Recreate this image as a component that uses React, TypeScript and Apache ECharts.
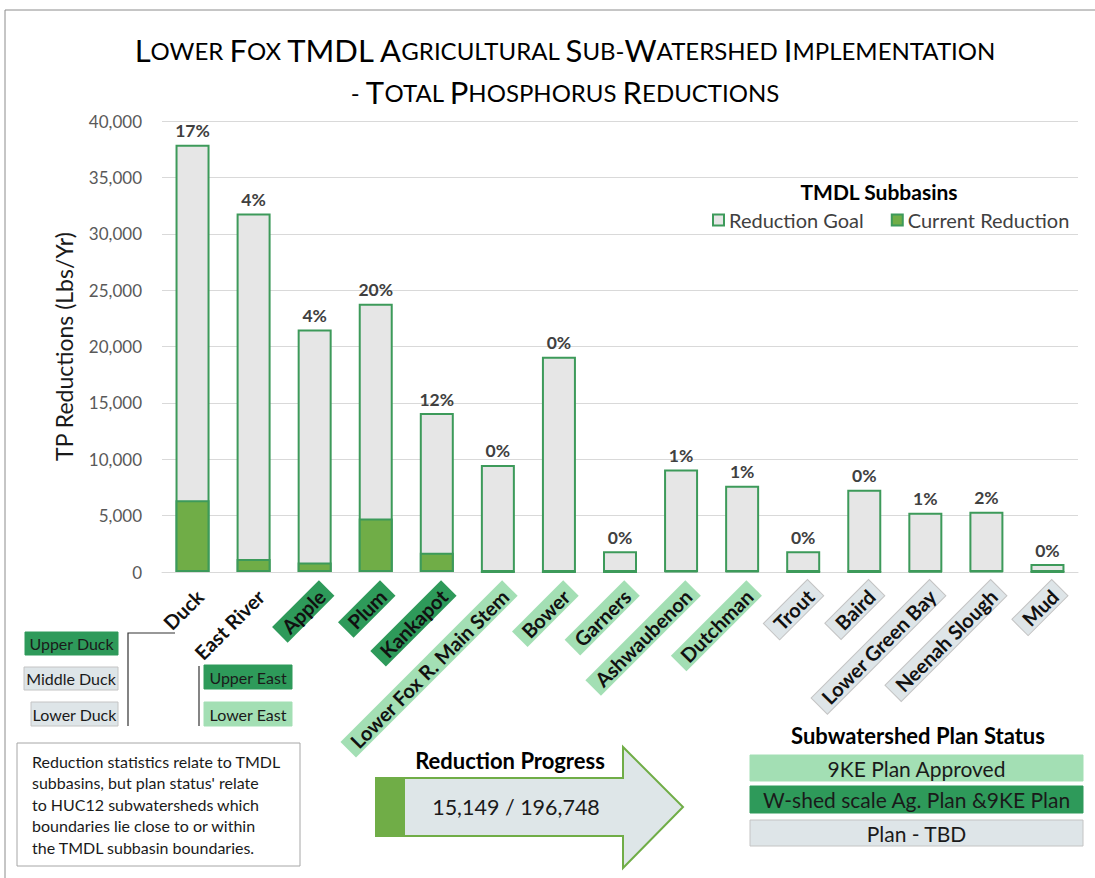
import React, { useEffect, useRef } from "react";
import * as echarts from "echarts";

const categories = [
  "Duck", "East River", "Apple", "Plum", "Kankapot", "Lower Fox R. Main Stem", "Bower",
  "Garners", "Ashwaubenon", "Dutchman", "Trout", "Baird", "Lower Green Bay", "Neenah Slough", "Mud",
];
const reductionGoal = [37900, 31800, 21500, 23800, 14100, 9500, 19100, 1850, 9100, 7650, 1850, 7300, 5250, 5350, 700];
const currentReduction = [6370, 1150, 850, 4750, 1700, 0, 0, 0, 91, 77, 0, 0, 53, 107, 0];
const pctLabels = ["17%", "4%", "4%", "20%", "12%", "0%", "0%", "0%", "1%", "1%", "0%", "0%", "1%", "2%", "0%"];
const planStatus = ["none", "none", "wshed", "wshed", "wshed", "nke", "nke", "nke", "nke", "nke", "tbd", "tbd", "tbd", "tbd", "tbd"];
const yMin = 0;
const yMax = 40000;
const yInterval = 5000;
const titleLine1 = "Lower Fox TMDL Agricultural Sub-Watershed Implementation";
const titleLine2 = "- Total Phosphorus Reductions";
const noteLines = [
  "Reduction statistics relate to TMDL",
  "subbasins, but plan status' relate",
  "to HUC12 subwatersheds which",
  "boundaries lie close to or within",
  "the TMDL subbasin boundaries.",
];
const progressText = "15,149 / 196,748";

const FONT = "Lato";
const DARK_GREEN = "#2e9a5a";
const LIGHT_GREEN = "#a3dfb4";
const GREY_BOX = "#dee5e8";
const BAR_BORDER = "#3d9a5a";
const CUR_FILL = "#70ad47";

function smallCaps(s: string): string {
  let out = "";
  let cur = "";
  let curType = "";
  const flush = () => {
    if (cur) out += `{${curType}|${cur}}`;
    cur = "";
  };
  for (const ch of s) {
    const t = /[a-z]/.test(ch) || ch === " " || ch === "-" ? "s" : "b";
    const c = t === "s" ? ch.toUpperCase() : ch;
    if (t !== curType) {
      flush();
      curType = t;
    }
    cur += c;
  }
  flush();
  return out;
}

export default function App() {
  const ref = useRef<HTMLDivElement>(null);
  useEffect(() => {
    if (!ref.current) return;
    const chart = echarts.init(ref.current, undefined, { renderer: "svg" });
    const boxText = (x: number, y: number, w: number, h: number, fill: string, text: string, stroke?: string, fs = 16) => [
      {
        type: "rect",
        shape: { x, y, width: w, height: h },
        style: { fill, stroke: stroke || fill, lineWidth: 1 },
      },
      {
        type: "text",
        x: x + w / 2,
        y: y + h / 2,
        style: { text, fill: "#1a1a1a", font: `${fs}px ${FONT}`, align: "center", verticalAlign: "middle" },
      },
    ];
    const titleRich = {
      b: { fontSize: 31, fontFamily: FONT, fill: "#000", color: "#000" },
      s: { fontSize: 24, fontFamily: FONT, fill: "#000", color: "#000" },
    };
    const graphics: any[] = [
      { type: "rect", shape: { x: 5, y: 10, width: 1100, height: 880 }, style: { fill: "none", stroke: "#8c8c8c", lineWidth: 1 } },
      {
        type: "text",
        x: 565,
        y: 50,
        style: { text: smallCaps(titleLine1), align: "center", verticalAlign: "middle", fill: "#000", rich: titleRich },
      },
      {
        type: "text",
        x: 565,
        y: 92,
        style: { text: smallCaps(titleLine2), align: "center", verticalAlign: "middle", fill: "#000", rich: titleRich },
      },
      {
        type: "text",
        x: 879,
        y: 191,
        style: { text: "TMDL Subbasins", font: `bold 21px ${FONT}`, fill: "#000", align: "center", verticalAlign: "middle" },
      },
      // Duck subwatershed boxes
      ...boxText(25, 632, 93, 23, DARK_GREEN, "Upper Duck"),
      ...boxText(24, 667, 94, 23, GREY_BOX, "Middle Duck", "#c4c4c4"),
      ...boxText(31, 702, 87, 24, GREY_BOX, "Lower Duck", "#c4c4c4"),
      { type: "polyline", shape: { points: [[175, 633], [128, 633], [128, 726]] }, style: { stroke: "#333", lineWidth: 1.2, fill: "none" } },
      ...boxText(204, 665, 88, 24, DARK_GREEN, "Upper East"),
      ...boxText(204, 702, 88, 24, LIGHT_GREEN, "Lower East"),
      { type: "line", shape: { x1: 199, y1: 666, x2: 199, y2: 726 }, style: { stroke: "#333", lineWidth: 1.2 } },
      // note box
      { type: "rect", shape: { x: 17, y: 743, width: 283, height: 123 }, style: { fill: "#fff", stroke: "#a6a6a6", lineWidth: 1 } },
      ...noteLines.map((t, i) => ({
        type: "text",
        x: 32,
        y: 761 + i * 21.5,
        style: { text: t, font: `16px ${FONT}`, fill: "#1a1a1a", verticalAlign: "middle" },
      })),
      // arrow
      {
        type: "polygon",
        shape: { points: [[376, 778], [623, 778], [623, 747], [683, 807], [623, 868], [623, 836], [376, 836]] },
        style: { fill: "#dee6e8", stroke: CUR_FILL, lineWidth: 2 },
      },
      { type: "rect", shape: { x: 377, y: 779, width: 28, height: 56 }, style: { fill: CUR_FILL } },
      {
        type: "text",
        x: 510,
        y: 760,
        style: { text: "Reduction Progress", font: `bold 22px ${FONT}`, fill: "#000", align: "center", verticalAlign: "middle" },
      },
      {
        type: "text",
        x: 516,
        y: 807,
        style: { text: progressText, font: `21.5px ${FONT}`, fill: "#1a1a1a", align: "center", verticalAlign: "middle" },
      },
      // plan status legend
      {
        type: "text",
        x: 918,
        y: 735,
        style: { text: "Subwatershed Plan Status", font: `bold 22px ${FONT}`, fill: "#000", align: "center", verticalAlign: "middle" },
      },
      ...boxText(750, 755, 333, 26, LIGHT_GREEN, "9KE Plan Approved", undefined, 21),
      ...boxText(750, 786, 333, 27, DARK_GREEN, "W-shed scale Ag. Plan &9KE Plan", undefined, 21),
      ...boxText(750, 820, 333, 26, GREY_BOX, "Plan - TBD", "#c4c4c4", 21),
    ];

    const base = { fontSize: 20, fontWeight: "bold", fontFamily: FONT, color: "#111", padding: [1, 7], lineHeight: 24 };
    const labelRich: any = {
      gap: { fontSize: 1, height: 34, lineHeight: 34 },
      none: { ...base },
      wshed: { ...base, backgroundColor: DARK_GREEN },
      nke: { ...base, backgroundColor: LIGHT_GREEN },
      tbd: { ...base, backgroundColor: GREY_BOX, borderColor: "#c4c4c4", borderWidth: 1 },
    };

    chart.setOption({
      animation: false,
      textStyle: { fontFamily: FONT },
      grid: { left: 162, right: 17, top: 121, bottom: 306, containLabel: false },
      legend: {
        data: ["Reduction Goal", "Current Reduction"],
        left: 707,
        top: 205,
        icon: "rect",
        itemWidth: 11,
        itemHeight: 11,
        itemGap: 27,
        textStyle: { fontSize: 20, color: "#404040", fontFamily: FONT },
      },
      xAxis: {
        type: "category",
        data: categories,
        axisLine: { lineStyle: { color: "#d9d9d9" } },
        axisTick: { show: false },
        axisLabel: {
          interval: 0,
          rotate: 45,
          margin: 4,
          formatter: (v: string) => {
            const i = categories.indexOf(v);
            return `{gap| }\n{${planStatus[i]}|${v}}`;
          },
          rich: labelRich,
        },
      },
      yAxis: {
        type: "value",
        min: yMin,
        max: yMax,
        interval: yInterval,
        name: "TP Reductions (Lbs/Yr)",
        nameLocation: "middle",
        nameGap: 87,
        nameTextStyle: { fontSize: 23, color: "#1a1a1a", fontFamily: FONT },
        axisLabel: {
          fontSize: 17,
          color: "#595959",
          margin: 20,
          formatter: (v: number) => v.toLocaleString("en-US"),
        },
        splitLine: { lineStyle: { color: "#d9d9d9" } },
        axisLine: { show: false },
        axisTick: { show: false },
      },
      series: [
        {
          name: "Reduction Goal",
          type: "bar",
          data: reductionGoal,
          barWidth: 34,
          barGap: "-100%",
          itemStyle: { color: "#e6e6e6", borderColor: BAR_BORDER, borderWidth: 2 },
          label: {
            show: true,
            position: "top",
            distance: 5,
            formatter: (p: any) => pctLabels[p.dataIndex],
            fontSize: 17.5,
            fontWeight: "bold",
            color: "#404040",
            fontFamily: FONT,
          },
          z: 2,
        },
        {
          name: "Current Reduction",
          type: "bar",
          data: currentReduction,
          barWidth: 34,
          barGap: "-100%",
          itemStyle: { color: CUR_FILL, borderColor: BAR_BORDER, borderWidth: 2 },
          z: 3,
        },
      ],
      graphic: graphics,
    });
    return () => chart.dispose();
  }, []);
  return (
    <div
      ref={ref}
      style={{ position: "fixed", left: 0, top: 0, width: 1095, height: 878, background: "#fff" }}
    />
  );
}
